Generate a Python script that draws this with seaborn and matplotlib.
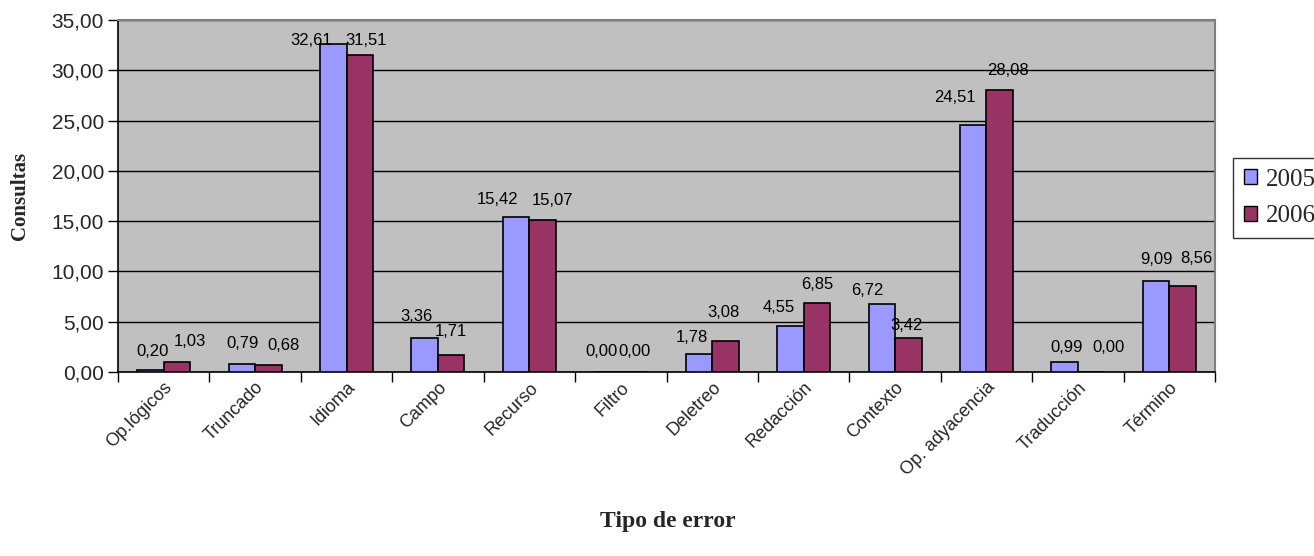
import matplotlib
matplotlib.use("Agg")
import matplotlib.pyplot as plt
from matplotlib.ticker import FixedLocator, FuncFormatter
import seaborn as sns
import pandas as pd

categories = ["Op.lógicos", "Truncado", "Idioma", "Campo", "Recurso", "Filtro",
              "Deletreo", "Redacción", "Contexto", "Op. adyacencia", "Traducción", "Término"]
values_2005 = [0.20, 0.79, 32.61, 3.36, 15.42, 0.00, 1.78, 4.55, 6.72, 24.51, 0.99, 9.09]
values_2006 = [1.03, 0.68, 31.51, 1.71, 15.07, 0.00, 3.08, 6.85, 3.42, 28.08, 0.00, 8.56]
years = ["2005", "2006"]

# value-label nudges in pixels (dx, height of label centre above the bar top)
label_dx = {"2005": [2, 1, -22, -8, -19, -6, -7, -12, -14, -18, 2, 0],
            "2006": [13, 15, 6, 0, 10, 0, -2, 0, -2, 8, 17, 14]}
label_dy = {"2005": [18, 21, 4, 22, 17, 20, 17, 19, 14, 28, 15, 21],
            "2006": [20, 20, 15, 23, 20, 20, 29, 19, 12, 19, 25, 27]}

df = pd.DataFrame({
    "Tipo de error": categories * 2,
    "Consultas": values_2005 + values_2006,
    "Año": [years[0]] * len(categories) + [years[1]] * len(categories),
})

sns.set_style("white")
plt.rcParams["font.family"] = ["Liberation Sans", "DejaVu Sans"]

fig = plt.figure(figsize=(13.14, 5.56), dpi=100)
ax = fig.add_axes([118 / 1314, 1 - 372 / 556, (1215 - 118) / 1314, (372 - 20) / 556])
ax.set_facecolor("#C0C0C0")

palette = {"2005": "#9999FF", "2006": "#993366"}
sns.barplot(data=df, x="Tipo de error", y="Consultas", hue="Año", order=categories,
            hue_order=years, palette=palette, width=0.58, gap=0, saturation=1,
            edgecolor="black", linewidth=1.2, ax=ax, legend=False, zorder=3)

fmt = lambda v: f"{v:.2f}".replace(".", ",")
for year, cont in zip(years, ax.containers):
    for i, (bar, v) in enumerate(zip(cont.patches, cont.datavalues)):
        ax.annotate(fmt(v), xy=(bar.get_x() + bar.get_width() / 2, bar.get_height()),
                    xytext=(label_dx[year][i], label_dy[year][i]), textcoords="offset pixels",
                    ha="center", va="center", fontsize=12, color="black", zorder=4)

ax.set_ylim(0, 35)
ax.set_xlim(-0.5, len(categories) - 0.5)
ax.set_yticks(range(0, 36, 5))
ax.yaxis.set_major_formatter(FuncFormatter(lambda v, p: f"{v:.2f}".replace(".", ",")))
ax.tick_params(axis="y", labelsize=15, length=7, width=1, direction="out", left=True,
               color="black", pad=3)
ax.yaxis.grid(True, color="black", linewidth=1, zorder=1)
ax.set_axisbelow(True)

# category labels at centres, tick marks on the boundaries between categories
ax.set_xticks(range(len(categories)))
ax.set_xticklabels(categories, rotation=45, ha="right", rotation_mode="anchor", fontsize=13)
ax.tick_params(axis="x", which="major", length=0, pad=5)
ax.xaxis.set_minor_locator(FixedLocator([i - 0.5 for i in range(len(categories) + 1)]))
ax.tick_params(axis="x", which="minor", length=7, width=1, direction="out", bottom=True, color="black")

for side in ["top", "right"]:
    ax.spines[side].set_visible(True)
    ax.spines[side].set_color("#808080")
    ax.spines[side].set_linewidth(1.5)
for side in ["left", "bottom"]:
    ax.spines[side].set_color("black")
    ax.spines[side].set_linewidth(1.2)

ax.set_ylabel("Consultas", fontsize=15, fontweight="bold", family=["Liberation Serif"])
ax.yaxis.set_label_coords(-(118 - 20) / 1097, 0.5)
ax.yaxis.label.set_va("center")
ax.set_xlabel("Tipo de error", fontsize=17, fontweight="bold", family=["Liberation Serif"])
ax.xaxis.set_label_coords((668 - 118) / 1097, -(522 - 372) / 352)
ax.xaxis.label.set_va("center")

handles = [plt.Rectangle((0, 0), 1, 1, facecolor=palette[y], edgecolor="black", linewidth=1) for y in years]
leg = fig.legend(handles, years, loc="upper left", bbox_to_anchor=(1233 / 1314, 1 - 158 / 556),
                 borderaxespad=0, frameon=True, fancybox=False, edgecolor="black",
                 handlelength=0.55, handleheight=0.55, handletextpad=0.36, borderpad=0.42,
                 labelspacing=0.6, prop={"family": "Liberation Serif", "size": 18})
leg.get_frame().set_linewidth(1)

fig.savefig("out.png", dpi=100, facecolor="white")
